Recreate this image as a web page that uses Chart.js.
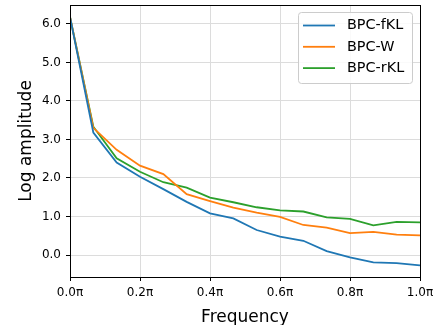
<!DOCTYPE html>
<html>
<head>
<meta charset="utf-8">
<script src="https://cdn.jsdelivr.net/npm/chart.js@4/dist/chart.umd.min.js"></script>
<style>
html,body{margin:0;padding:0;background:#fff;}
#wrap{width:434px;height:325px;position:relative;}
</style>
</head>
<body>
<div id="wrap"><canvas id="c" width="434" height="325"></canvas></div>
<script>
// x positions in units of π
const freqs = [0, 1/15, 2/15, 3/15, 4/15, 5/15, 6/15, 7/15, 8/15, 9/15, 10/15, 11/15, 12/15, 13/15, 14/15, 1];
const fKL = [6.18, 3.18, 2.40, 2.03, 1.71, 1.38, 1.08, 0.95, 0.65, 0.48, 0.37, 0.10, -0.06, -0.19, -0.21, -0.27];
const W   = [6.18, 3.30, 2.73, 2.32, 2.10, 1.58, 1.40, 1.23, 1.10, 0.99, 0.78, 0.71, 0.57, 0.60, 0.53, 0.51];
const rKL = [6.18, 3.33, 2.51, 2.16, 1.89, 1.75, 1.49, 1.37, 1.24, 1.16, 1.13, 0.98, 0.94, 0.77, 0.86, 0.85];
const xTicks = [0, 0.2, 0.4, 0.6, 0.8, 1.0];
const yTicks = [0, 1, 2, 3, 4, 5, 6];
const seriesNames = ['BPC-fKL', 'BPC-W', 'BPC-rKL'];
const colors = ['#1f77b4', '#ff7f0e', '#2ca02c'];

const FONT = "'DejaVu Sans', sans-serif";
const mk = (vals) => freqs.map((f, i) => ({x: f, y: vals[i]}));

const frame = {
  id: 'frame',
  afterDraw(chart) {
    const {ctx, chartArea: a} = chart;
    ctx.save();
    ctx.strokeStyle = '#000';
    ctx.lineWidth = 1;
    ctx.strokeRect(Math.round(a.left) + 0.5, Math.round(a.top) + 0.5, Math.round(a.right - a.left), Math.round(a.bottom - a.top));
    // legend
    const bx = 298.5, by = 12.5, bw = 114, bh = 71;
    ctx.fillStyle = 'rgba(255,255,255,0.85)';
    ctx.strokeStyle = '#cccccc';
    ctx.lineWidth = 1;
    ctx.beginPath();
    if (ctx.roundRect) ctx.roundRect(bx, by, bw, bh, 3); else ctx.rect(bx, by, bw, bh);
    ctx.fill(); ctx.stroke();
    ctx.font = "14.4px " + FONT;
    ctx.textBaseline = 'middle';
    ctx.textAlign = 'left';
    chart.data.datasets.forEach((ds, i) => {
      const yy = 25.5 + i * 21.3;
      ctx.strokeStyle = ds.borderColor;
      ctx.lineWidth = 1.8;
      ctx.beginPath(); ctx.moveTo(303, yy); ctx.lineTo(335, yy); ctx.stroke();
      ctx.fillStyle = '#000';
      ctx.fillText(ds.label, 347, yy);
    });
    ctx.restore();
  }
};

new Chart(document.getElementById('c'), {
  type: 'line',
  data: {
    datasets: [
      {label: seriesNames[0], data: mk(fKL), borderColor: colors[0], backgroundColor: colors[0]},
      {label: seriesNames[1], data: mk(W), borderColor: colors[1], backgroundColor: colors[1]},
      {label: seriesNames[2], data: mk(rKL), borderColor: colors[2], backgroundColor: colors[2]}
    ]
  },
  options: {
    responsive: false,
    animation: false,
    devicePixelRatio: 1,
    layout: {padding: {top: 5, right: 14, left: 0, bottom: 0}},
    elements: {
      line: {borderWidth: 1.8, tension: 0},
      point: {radius: 0}
    },
    plugins: {legend: {display: false}, tooltip: {enabled: false}},
    scales: {
      x: {
        type: 'linear', min: 0, max: 1,
        afterFit: (s) => { s.height = 48; s.paddingLeft = 0; s.paddingRight = 0; },
        afterBuildTicks: (s) => { s.ticks = xTicks.map(v => ({value: v})); },
        ticks: {
          callback: (v) => Number(v).toFixed(1) + 'π',
          font: {family: FONT, size: 12}, color: '#000', padding: 5, maxRotation: 0, autoSkip: false
        },
        grid: {color: '#dcdcdc', lineWidth: 1, tickColor: '#000', tickLength: 4, drawTicks: true},
        border: {color: '#000'},
        title: {display: true, text: 'Frequency', font: {family: FONT, size: 17}, color: '#000', padding: {top: 0, bottom: -3}}
      },
      y: {
        type: 'linear', min: -0.57, max: 6.49,
        afterFit: (s) => { s.width = 70; s.paddingTop = 0; s.paddingBottom = 0; },
        afterBuildTicks: (s) => { s.ticks = yTicks.map(v => ({value: v})); },
        ticks: {
          callback: (v) => Number(v).toFixed(1),
          font: {family: FONT, size: 12}, color: '#000', padding: 5
        },
        grid: {color: '#dcdcdc', lineWidth: 1, tickColor: '#000', tickLength: 4, drawTicks: true},
        border: {color: '#000'},
        title: {display: true, text: 'Log amplitude', font: {family: FONT, size: 17}, color: '#000', padding: {top: 16, bottom: 4}}
      }
    }
  },
  plugins: [frame]
});
</script>
</body>
</html>
